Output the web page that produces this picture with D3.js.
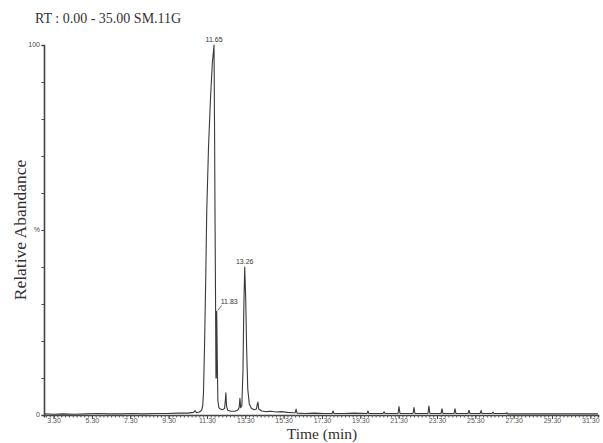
<!DOCTYPE html>
<html>
<head>
<meta charset="utf-8">
<script src="https://cdn.jsdelivr.net/npm/d3@7"></script>
<style>
  body { margin: 0; background: #fff; }
  svg { display: block; }
</style>
</head>
<body>
<svg id="chart"></svg>
<script>
let width = 603;
let height = 443;
let margin = {
  top: 45,
  right: 5,
  bottom: 28,
  left: 44
}

// chromatogram trace, retention time (min) and relative abundance (%)
let times = [
  3.00, 3.50, 4.00, 4.60, 5.20, 5.80, 6.40, 7.00, 7.60, 8.20, 8.80, 9.40,
  10.00, 10.50, 10.80, 10.88, 10.95, 11.10, 11.22, 11.28, 11.32, 11.38, 11.44, 11.49,
  11.58, 11.68, 11.78, 11.87, 11.90, 11.92, 11.95, 11.97, 11.99, 12.01, 12.04, 12.07,
  12.12, 12.20, 12.32, 12.42, 12.46, 12.49, 12.52, 12.58, 12.75, 12.95, 13.10, 13.18,
  13.22, 13.26, 13.32, 13.38, 13.42, 13.47, 13.52, 13.57, 13.63, 13.71, 13.82, 13.95,
  14.08, 14.13, 14.16, 14.20, 14.35, 14.60, 14.85, 15.10, 15.40, 15.70, 16.00, 16.10,
  16.15, 16.20, 16.60, 17.10, 17.60, 18.03, 18.08, 18.13, 18.60, 19.20, 19.85, 19.90,
  19.95, 20.40, 20.69, 20.74, 20.79, 21.20, 21.47, 21.52, 21.57, 22.00, 22.25, 22.30,
  22.35, 22.80, 23.03, 23.08, 23.13, 23.71, 23.76, 23.81, 24.39, 24.44, 24.49, 25.12,
  25.17, 25.22, 25.75, 25.80, 25.85, 26.37, 26.42, 26.47, 27.10, 27.15, 27.20, 27.80,
  28.50, 29.20, 30.00, 30.80, 31.50, 31.90
];
let abundance = [
  0.3, 0.2, 0.3, 0.2, 0.3, 0.4, 0.3, 0.3, 0.4, 0.3, 0.4, 0.4,
  0.5, 0.5, 0.7, 1.2, 0.6, 0.8, 1.2, 2.5, 6, 20, 38, 55,
  72, 85, 95, 100, 75, 55, 30, 10, 10, 28, 15, 4,
  2, 1.6, 1.4, 1.8, 4, 6, 2.5, 1.3, 1.0, 1.0, 1.3, 2.0,
  4.5, 2.0, 2.5, 12, 28, 40, 32, 18, 7, 3, 1.8, 1.4,
  1.6, 3, 3.5, 1.6, 1.1, 0.9, 1.0, 0.8, 0.9, 0.7, 0.6, 0.6,
  1.6, 0.5, 0.4, 0.5, 0.4, 0.4, 1.1, 0.4, 0.4, 0.5, 0.4, 1.1,
  0.4, 0.4, 0.4, 0.9, 0.4, 0.4, 0.4, 2.3, 0.4, 0.4, 0.4, 2.0,
  0.4, 0.4, 0.4, 2.4, 0.4, 0.4, 1.7, 0.4, 0.4, 1.7, 0.4, 0.4,
  1.3, 0.4, 0.4, 1.2, 0.4, 0.4, 0.8, 0.4, 0.4, 0.6, 0.3, 0.3,
  0.3, 0.3, 0.3, 0.3, 0.3, 0.3
];

let xTickValues = [3.5, 5.5, 7.5, 9.5, 11.5, 13.5, 15.5, 17.5, 19.5, 21.5, 23.5, 25.5, 27.5, 29.5, 31.5];
let xTickLabels = ["3.30", "5.30", "7.30", "9.30", "11.30", "13.30", "15.30", "17.30",
  "19.30", "21.30", "23.30", "25.30", "27.30", "29.30", "31.30"];
let yTickValues = [0, 10, 20, 30, 40, 50, 60, 70, 80, 90, 100];
let yLabelValues = [0, 50, 100];
let yLabelTexts = ["0", "%", "100"];

let peakTimes = [11.87, 12.01, 13.47];
let peakLabels = ["11.65", "11.83", "13.26"];

let data = times.map((t, i) => ({time: t, value: abundance[i]}));

let svg = d3.select('#chart')
  .attr('width', width)
  .attr('height', height);

let x = d3.scaleLinear()
  .domain([3.0, 31.9])
  .range([margin.left, width - margin.right]);

let y = d3.scaleLinear()
  .domain([0, 100])
  .range([height - margin.bottom, margin.top]);

// title
svg.append("text")
  .attr("x", 35)
  .attr("y", 23)
  .attr("font-family", "Liberation Serif, Times New Roman, serif")
  .attr("font-size", 14)
  .attr("fill", "#333")
  .text("RT : 0.00 - 35.00 SM.11G");

// trace
let line = d3.line()
  .x(d => x(d.time))
  .y(d => y(d.value));

svg.append("path")
  .datum(data)
  .attr("fill", "none")
  .attr("stroke", "#3a3a3a")
  .attr("stroke-width", 1.1)
  .attr("stroke-linejoin", "round")
  .attr("d", line);

// x axis: minor ticks then major ticks with labels
let minorTicks = d3.range(3.1, 31.9, 0.2);

svg.append("g")
  .attr("transform", `translate(0,${y(0)})`)
  .call(d3.axisBottom(x).tickValues(minorTicks).tickSize(2.5).tickFormat(""))
  .call(g => g.selectAll("line").attr("stroke", "#555"))
  .call(g => g.select(".domain").attr("stroke", "#444").attr("stroke-width", 1.6));

svg.append("g")
  .attr("transform", `translate(0,${y(0)})`)
  .call(d3.axisBottom(x).tickValues(xTickValues).tickSize(4)
    .tickFormat((d, i) => xTickLabels[i]))
  .call(g => g.select(".domain").remove())
  .call(g => g.selectAll("line").attr("stroke", "#444"))
  .call(g => g.selectAll("text")
    .attr("font-family", "Liberation Sans, Arial, sans-serif")
    .attr("font-size", 7)
    .attr("fill", "#555")
    .attr("dy", "0.15em"));

// y axis
svg.append("g")
  .attr("transform", `translate(${margin.left},0)`)
  .call(d3.axisLeft(y).tickValues(yTickValues).tickSize(2.5).tickFormat(""))
  .call(g => g.selectAll("line").attr("stroke", "#444"))
  .call(g => g.select(".domain").attr("stroke", "#444").attr("stroke-width", 1.6));

svg.append("g")
  .selectAll("text")
  .data(yLabelValues)
  .enter()
  .append("text")
    .attr("x", margin.left - 4)
    .attr("y", d => y(d))
    .attr("dy", "0.35em")
    .attr("text-anchor", "end")
    .attr("font-family", "Liberation Sans, Arial, sans-serif")
    .attr("font-size", 7)
    .attr("fill", "#444")
    .text((d, i) => yLabelTexts[i]);

// peak labels
let peaks = peakTimes.map((t, i) => ({
  time: t,
  value: abundance[times.indexOf(t)],
  label: peakLabels[i]
}));

let peakG = svg.append("g")
  .attr("font-family", "Liberation Sans, Arial, sans-serif")
  .attr("font-size", 7)
  .attr("fill", "#333");

peaks.forEach((p, i) => {
  let px = x(p.time);
  let py = y(p.value);
  if (i === 1) {
    // shoulder label sits to the right with a short leader
    peakG.append("line")
      .attr("x1", px + 1).attr("y1", py - 1)
      .attr("x2", px + 5).attr("y2", py - 6)
      .attr("stroke", "#444").attr("stroke-width", 0.8);
    peakG.append("text")
      .attr("x", px + 4)
      .attr("y", py - 7)
      .text(p.label);
  } else {
    peakG.append("text")
      .attr("x", px)
      .attr("y", py - 3)
      .attr("text-anchor", "middle")
      .text(p.label);
  }
});

// axis titles
svg.append("text")
  .attr("x", 322)
  .attr("y", 438.5)
  .attr("text-anchor", "middle")
  .attr("font-family", "Liberation Serif, Times New Roman, serif")
  .attr("font-size", 15.5)
  .attr("fill", "#333")
  .text("Time (min)");

svg.append("text")
  .attr("transform", `translate(26,${y(50)}) rotate(-90)`)
  .attr("text-anchor", "middle")
  .attr("font-family", "Liberation Serif, Times New Roman, serif")
  .attr("font-size", 17.5)
  .attr("fill", "#333")
  .text("Relative Abandance");
</script>
</body>
</html>
